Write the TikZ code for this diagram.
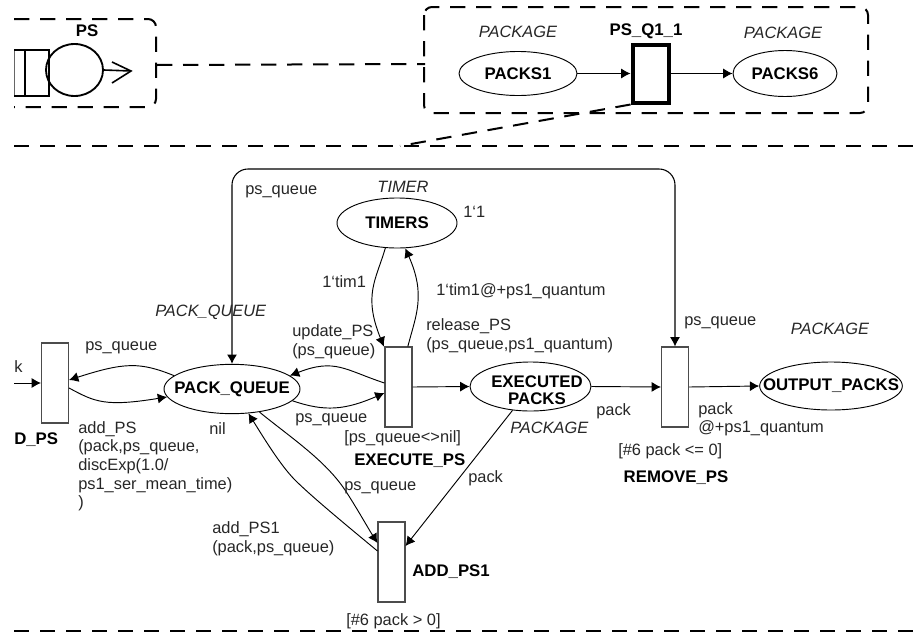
\documentclass[tikz,border=0pt]{standalone}
\usepackage{fontspec}
\setmainfont{Liberation Sans}
\usetikzlibrary{arrows.meta,shapes.geometric}
\tikzset{
  lbl/.style={inner sep=0pt,anchor=west,font=\fontsize{12.3}{14}\selectfont,text=black!85},
  lblc/.style={inner sep=0pt,font=\fontsize{12.3}{14}\selectfont,text=black!85},
  ital/.style={inner sep=0pt,font=\fontsize{12.3}{14}\selectfont\itshape,text=black!85},
  bld/.style={inner sep=0pt,font=\fontsize{12.6}{13}\selectfont\bfseries,align=center},
  place/.style={draw,ellipse,inner sep=0pt,line width=0.7pt},
  trans/.style={draw=black!70,rectangle,inner sep=0pt,line width=0.8pt,minimum width=20.25pt,minimum height=60pt},
  arc/.style={line width=0.7pt,-{Latex[length=7pt,width=7.5pt]}},
  dashline/.style={line width=1.5pt,dash pattern=on 11.5pt off 8pt},
}
\begin{document}
\begin{tikzpicture}[x=0.75pt,y=-0.75pt]
\useasboundingbox (0,0) rectangle (917,632);
\begin{scope}
\clip (14,0) rectangle (917,632);
% top-left box
\draw[dashline,rounded corners=6pt] (14,19) -- (156,19) -- (156,107) -- (14,107);
\draw[line width=1.4pt,draw=black!60] (14,50) -- (14,96);
\draw[line width=1.4pt] (14,50) -- (49,50) -- (49,96) -- (14,96);
\draw[line width=1.4pt] (25,50) -- (25,96);
\node[draw,ellipse,line width=1.4pt,minimum width=42.75pt,minimum height=39pt,inner sep=0pt] (server) at (74.5,70) {};
\coordinate (servtip) at (131,71);
\draw[line width=1.2pt] (server.east) -- (servtip);
\draw[line width=1.2pt] (112,62) -- (servtip) -- (112,83);
\end{scope}
\node[bld] (pslabel) at (87,31) {PS};
% top-right box
\draw[dashline,rounded corners=6pt] (424,7) rectangle (868,113);
\coordinate (leftboxedge) at (157,65);
\coordinate (rightboxedge) at (425,64);
\draw[dashline] (leftboxedge) -- (rightboxedge);
\node[ital] (pk1) at (518,32) {PACKAGE};
\node[bld] (psq) at (646,31) {PS\_Q1\_1};
\node[ital] (pk2) at (783,33) {PACKAGE};
\node[place,minimum width=88.5pt,minimum height=33pt] (packs1) at (518,73.5) {};
\node[bld] (packs1t) at (packs1) {PACKS1};
\node[draw,rectangle,line width=3pt,minimum width=27pt,minimum height=43.5pt,inner sep=0pt] (q1) at (650.5,73.5) {};
\node[place,minimum width=78pt,minimum height=34.5pt] (packs6) at (785,73.5) {};
\node[bld] (packs6t) at (packs6) {PACKS6};
\draw[arc] (packs1.east) -- (q1.west);
\draw[arc] (q1.east) -- (packs6.west);
% divider lines
\coordinate (divL) at (14,146);
\coordinate (divR) at (917,146);
\coordinate (botL) at (14,631);
\coordinate (botR) at (917,631);
\coordinate (zoomfoot) at (400,146);
\draw[dashline] (divL) -- (divR);
\draw[dashline] (botL) -- (botR);
\draw[dashline] (q1.south west) -- (zoomfoot);
% places
\node[place,minimum width=102pt,minimum height=37pt] (pq) at (232,389) {};
\node[bld] (pqt) at (pq) {PACK\_QUEUE};
\node[place,minimum width=90pt,minimum height=37.5pt] (timers) at (397,223) {};
\node[bld] (timerst) at (timers) {TIMERS};
\node[place,minimum width=90.75pt,minimum height=36.75pt] (exec) at (530.5,386.5) {};
\node[bld] (exect) at (537,390.5) {EXECUTED\\PACKS};
\node[place,minimum width=107pt,minimum height=36pt] (out) at (831,386) {};
\node[bld] (outt) at (out) {OUTPUT\_PACKS};
% transitions
\node[trans] (addps) at (55,383) {};
\node[trans] (execps) at (398.5,387) {};
\node[trans] (rem) at (675,387) {};
\node[trans] (addps1) at (391.5,562) {};
% connectors
\coordinate (kin) at (14,383);
\draw[arc] (kin) -- (addps.west);
\draw[arc] (pq.167) .. controls (140,362) and (125,362) .. ([yshift=2.25pt]addps.east);
\draw[arc] ([yshift=-3.75pt]addps.east) .. controls (95,402) and (105,407) .. (pq.187);
\draw[arc] ([yshift=3pt]execps.west) .. controls (345,370) and (335,358) .. (pq.13);
\draw[arc] (pq.-11) .. controls (325,412) and (345,410) .. ([yshift=-4.5pt]execps.west);
\draw[arc] (timers.-115) .. controls (376,280) and (363,295) .. ([xshift=-11pt]execps.north);
\draw[arc] ([xshift=7pt]execps.north) .. controls (416,315) and (426,295) .. (timers.-72);
\draw[arc] (execps.east) -- (exec.west);
\draw[arc] (exec.east) -- (rem.west);
\draw[arc] (rem.east) -- (out.west);
\draw[arc] (exec.-127) -- ([yshift=12pt]addps1.east);
\draw[arc] (pq.-40) .. controls (290,437) and (325,460) .. (345,490) .. controls (355,505) and (368,528) .. ([yshift=14.25pt]addps1.west);
\draw[arc] ([yshift=8.25pt]addps1.west) .. controls (340,520) and (310,495) .. (295,480) .. controls (280,465) and (262,435) .. (pq.-56);
\draw[line width=0.8pt,{Latex[length=7pt,width=7.5pt]}-{Latex[length=7pt,width=7.5pt]},rounded corners=12pt] (rem.north) |- (232,169) -- (pq.north);
% labels
\node[lbl] (k) at (14,367) {k};
\node[bld,anchor=west] (dps) at (14,440) {D\_PS};
\node[lbl] (l1) at (85,348) {ps\_queue};
\node[lbl,align=left,anchor=north west,font=\fontsize{12.3}{14}\selectfont] (l2) at (78,421) {add\_PS\\(pack,ps\_queue,\\discExp(1.0/\\ps1\_ser\_mean\_time)\\)};
\node[lbl] (nil) at (209,429) {nil};
\node[ital,anchor=west] (l3) at (155,312) {PACK\_QUEUE};
\node[lbl] (l4) at (245,192) {ps\_queue};
\node[ital] (l5) at (403,187) {TIMER};
\node[lbl] (l6) at (463,212) {1‘1};
\node[lbl] (l7) at (322,282) {1‘tim1};
\node[lbl] (l8) at (436,291) {1‘tim1@+ps1\_quantum};
\node[lbl,align=left,anchor=north west,font=\fontsize{12.3}{14.2}\selectfont] (l9) at (292,324) {update\_PS\\(ps\_queue)};
\node[lbl,align=left,anchor=north west,font=\fontsize{12.3}{14.2}\selectfont] (l10) at (426,318) {release\_PS\\(ps\_queue,ps1\_quantum)};
\node[lbl] (l11) at (295,420) {ps\_queue};
\node[lbl] (l12) at (344,438) {[ps\_queue<>nil]};
\node[bld,anchor=west] (l13) at (354,461) {EXECUTE\_PS};
\node[lbl] (l14) at (684,323) {ps\_queue};
\node[ital] (l15) at (830,329) {PACKAGE};
\node[lbl] (l16) at (596,411) {pack};
\node[ital,anchor=west] (l17) at (510,428) {PACKAGE};
\node[lbl,align=left,anchor=north west,font=\fontsize{12.3}{14}\selectfont] (l18) at (698,402) {pack\\@+ps1\_quantum};
\node[lbl] (l19) at (618,451) {[\#6 pack <= 0]};
\node[bld] (l20) at (676,478) {REMOVE\_PS};
\node[lbl] (l21) at (344,488) {ps\_queue};
\node[lbl] (l22) at (468,478) {pack};
\node[lbl,align=left,anchor=north west,font=\fontsize{12.3}{14.2}\selectfont] (l23) at (212,521) {add\_PS1\\(pack,ps\_queue)};
\node[bld,anchor=west] (l24) at (412,572) {ADD\_PS1};
\node[lbl] (l25) at (346,621) {[\#6 pack > 0]};
\end{tikzpicture}
\end{document}
